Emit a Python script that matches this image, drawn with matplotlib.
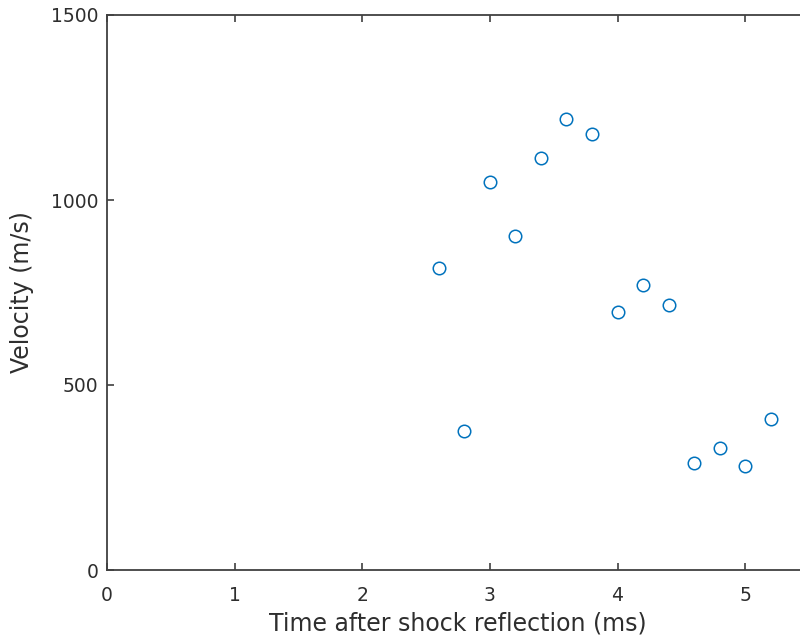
import numpy as np
from matplotlib import pyplot as plt

# time after reflection (ms) and measured velocity (m/s)
time_ms = [2.6, 2.8, 3.0, 3.2, 3.4, 3.6, 3.8, 4.0, 4.2, 4.4, 4.6, 4.8, 5.0, 5.2]
velocity = [815, 376, 1050, 902, 1113, 1218, 1178, 696, 770, 715, 289, 329, 281, 407]

x_ticks = [0, 1, 2, 3, 4, 5]
y_ticks = [0, 500, 1000, 1500]


def main():
    grey = '#2e2e2e'
    fig = plt.figure(figsize=(8, 6.39), dpi=100)
    # axes run a little past the right edge of the picture, as in the cropped original
    ax = fig.add_axes([107 / 800., 69 / 639., 702 / 800., 555 / 639.])
    ax.plot(time_ms, velocity, 'o', mfc='none', mec='#0072BD', ms=9, mew=1.1)
    ax.set_xlim(0, 5.5)
    ax.set_ylim(0, 1500)
    ax.set_xticks(x_ticks)
    ax.set_yticks(y_ticks)
    ax.tick_params(direction='in', top=True, right=True, length=5, width=1.2,
                   colors='#404040', labelcolor=grey, labelsize=13.5)
    ax.tick_params(axis='x', pad=11.5)
    ax.tick_params(axis='y', pad=6)
    for s in ax.spines.values():
        s.set_color('#404040')
        s.set_linewidth(1.3)
    ax.set_xlabel('Time after shock reflection (ms)', color=grey, fontsize=17, labelpad=5)
    ax.set_ylabel('Velocity (m/s)', color=grey, fontsize=17, labelpad=12)
    plt.savefig('out.png', dpi=100)


if __name__ == '__main__':
    main()
